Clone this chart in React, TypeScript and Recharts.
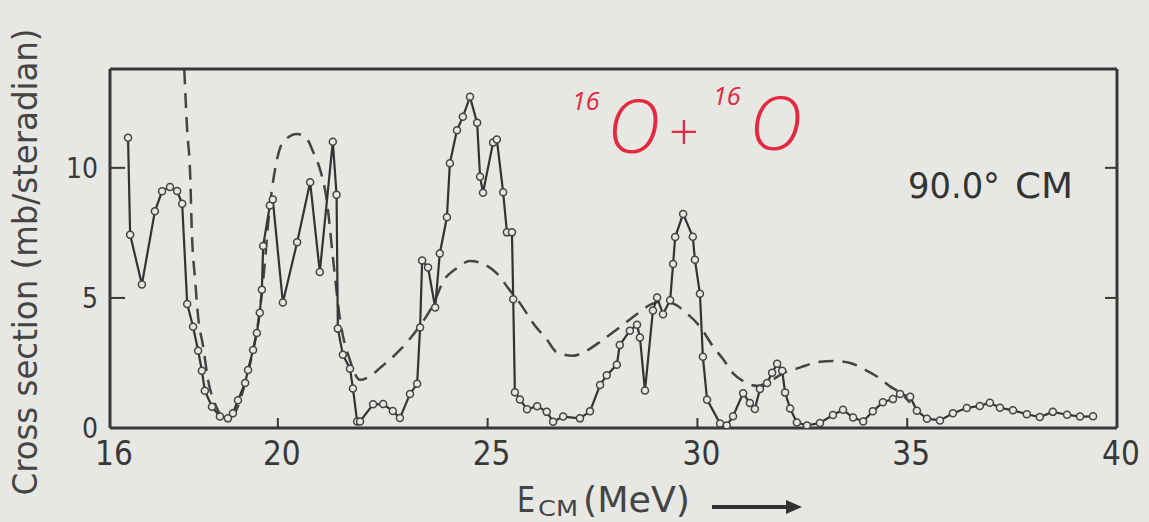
import React from 'react';
import { ComposedChart, Line, XAxis, YAxis } from 'recharts';

// measured excitation function, 90 deg CM (open circles)
const expEnergy = [
  16.43, 16.48, 16.76, 17.07, 17.24, 17.43, 17.6, 17.72, 17.84, 17.98,
  18.1, 18.19, 18.26, 18.43, 18.62, 18.81, 18.93, 19.05, 19.22, 19.29,
  19.41, 19.5, 19.57, 19.62, 19.65, 19.81, 19.88, 20.12, 20.46, 20.77,
  21.0, 21.31, 21.4, 21.43, 21.55, 21.72, 21.79, 21.89, 21.96, 22.27,
  22.51, 22.74, 22.91, 23.15, 23.32, 23.39, 23.44, 23.58, 23.75, 23.86,
  24.03, 24.1, 24.27, 24.41, 24.58, 24.75, 24.82, 24.89, 25.13, 25.22,
  25.37, 25.46, 25.58, 25.61, 25.65, 25.77, 25.94, 26.18, 26.41, 26.56,
  26.8, 27.2, 27.44, 27.68, 27.84, 28.08, 28.15, 28.39, 28.56, 28.63,
  28.75, 28.94, 29.04, 29.18, 29.35, 29.42, 29.47, 29.66, 29.89, 29.94,
  30.06, 30.13, 30.23, 30.54, 30.7, 30.85, 31.09, 31.25, 31.37, 31.49,
  31.66, 31.78, 31.9, 32.02, 32.09, 32.21, 32.37, 32.61, 32.92, 33.23,
  33.47, 33.71, 33.95, 34.18, 34.42, 34.66, 34.83, 35.07, 35.23, 35.47,
  35.78, 36.09, 36.42, 36.73, 36.97, 37.21, 37.52, 37.85, 38.16, 38.47,
  38.81, 39.12, 39.43,
];
const expSigma = [
  11.16, 7.43, 5.52, 8.33, 9.1, 9.26, 9.11, 8.62, 4.77, 3.89,
  2.97, 2.2, 1.43, 0.82, 0.44, 0.37, 0.57, 1.07, 1.73, 2.23,
  3.0, 3.65, 4.43, 5.31, 7.0, 8.55, 8.78, 4.82, 7.14, 9.45,
  6.0, 11.0, 8.97, 3.82, 2.82, 2.28, 1.52, 0.25, 0.25, 0.91,
  0.92, 0.65, 0.38, 1.31, 1.7, 3.86, 6.44, 6.17, 4.63, 6.71,
  8.1, 10.18, 11.45, 11.96, 12.73, 11.73, 9.66, 9.04, 10.97, 11.09,
  9.06, 7.52, 7.52, 4.95, 1.37, 1.1, 0.72, 0.84, 0.62, 0.24,
  0.44, 0.37, 0.64, 1.65, 2.03, 2.43, 3.19, 3.74, 3.97, 3.48,
  1.44, 4.52, 5.02, 4.37, 4.91, 6.3, 7.34, 8.23, 7.35, 6.47,
  5.16, 2.74, 1.09, 0.17, 0.1, 0.45, 1.34, 0.96, 0.73, 1.5,
  1.73, 2.12, 2.47, 2.2, 1.36, 0.75, 0.21, 0.1, 0.19, 0.5,
  0.7, 0.4, 0.25, 0.64, 0.99, 1.11, 1.31, 1.2, 0.66, 0.36,
  0.29, 0.57, 0.77, 0.85, 0.97, 0.78, 0.68, 0.53, 0.42, 0.62,
  0.51, 0.44, 0.45,
];

// calculation (dashed curve)
const theoryEnergy = [
  17.77, 17.84, 17.91, 17.95, 18.03, 18.1, 18.22, 18.34, 18.5, 18.69,
  18.91, 19.05, 19.22, 19.38, 19.53, 19.69, 19.77, 19.98, 20.12, 20.46,
  20.69, 20.84, 21.0, 21.17, 21.31, 21.48, 21.72, 21.96, 22.2, 22.43,
  22.91, 23.39, 23.7, 23.94, 24.27, 24.58, 24.89, 25.22, 25.53, 25.77,
  26.08, 26.41, 26.65, 27.03, 27.37, 27.75, 28.15, 28.56, 28.87, 29.11,
  29.42, 29.75, 30.06, 30.37, 30.61, 30.85, 31.09, 31.42, 31.66, 32.04,
  32.44, 32.85, 33.23, 33.64, 33.95, 34.28, 34.59, 34.83, 35.07,
];
const theorySigma = [
  13.8, 11.43, 9.78, 7.58, 5.66, 4.28, 3.13, 1.82, 0.94, 0.45,
  0.45, 0.84, 1.73, 2.77, 4.04, 6.35, 7.89, 10.32, 10.98, 11.3,
  11.12, 10.62, 9.97, 8.71, 6.6, 4.2, 2.6, 1.85, 2.0, 2.3,
  3.0, 3.94, 4.73, 5.63, 6.15, 6.42, 6.31, 5.94, 5.29, 4.8,
  4.04, 3.4, 2.91, 2.78, 2.98, 3.4, 3.87, 4.38, 4.73, 4.85,
  4.78, 4.4, 3.9, 3.14, 2.65, 2.1, 1.8, 1.62, 1.74, 2.1,
  2.32, 2.53, 2.58, 2.5, 2.28, 1.98, 1.6, 1.35, 0.97,
];

const energyTicks = [16, 20, 25, 30, 35, 40];
const innerEnergyTicks = [20, 25, 30, 35];
const sigmaTicks = [0, 5, 10];
const innerSigmaTicks = [5, 10];

const measured = expEnergy.map((e, i) => ({ e, s: expSigma[i] }));
const theory = theoryEnergy.map((e, i) => ({ e, s: theorySigma[i] }));

const INK = '#383838';
const PAPER = '#e7e7e3';
const RED = '#e4283f';
const NARROW = "'DejaVu Sans Condensed', 'Liberation Sans Narrow', 'DejaVu Sans', sans-serif";

// axis ticks point into the frame, labels sit outside
const BottomTick = ({ x, y, payload }: any) => (
  <g>
    {payload.value > 16 && payload.value < 40 && (
      <line x1={x} y1={y} x2={x} y2={y - 10} stroke={INK} strokeWidth={2} />
    )}
    <text x={x + 4} y={y + 37} textAnchor="middle" fontFamily={NARROW} fontSize={33} fill={INK}>
      {payload.value}
    </text>
  </g>
);

const TopTick = ({ x, y }: any) => (
  <line x1={x} y1={y} x2={x} y2={y + 10} stroke={INK} strokeWidth={2} />
);

const LeftTick = ({ x, y, payload }: any) => (
  <g>
    {payload.value > 0 && <line x1={x} y1={y} x2={x + 15} y2={y} stroke={INK} strokeWidth={2} />}
    <text x={x - 12} y={y + 10} textAnchor="end" fontFamily={NARROW} fontSize={28} fill={INK}>
      {payload.value}
    </text>
  </g>
);

const RightTick = ({ x, y }: any) => (
  <line x1={x} y1={y} x2={x - 12} y2={y} stroke={INK} strokeWidth={2} />
);

const frame = { stroke: INK, strokeWidth: 3 };

export default function App() {
  return (
    <div style={{ position: 'absolute', left: 0, top: 0, width: 1149, height: 522, background: PAPER, overflow: 'hidden' }}>
      <ComposedChart width={1149} height={522} margin={{ top: 0, right: 0, bottom: 0, left: 0 }}>
        <XAxis xAxisId="bottom" dataKey="e" type="number" domain={[16, 40]} ticks={energyTicks} interval={0}
          allowDataOverflow height={94} tickSize={0} tickMargin={0} tickLine={false} axisLine={frame} tick={BottomTick} />
        <XAxis xAxisId="top" orientation="top" type="number" domain={[16, 40]} ticks={innerEnergyTicks} interval={0}
          allowDataOverflow height={69} tickSize={0} tickMargin={0} tickLine={false} axisLine={frame} tick={TopTick} />
        <YAxis yAxisId="left" type="number" domain={[0, 13.8]} ticks={sigmaTicks} interval={0}
          allowDataOverflow width={110} tickSize={0} tickMargin={0} tickLine={false} axisLine={frame} tick={LeftTick} />
        <YAxis yAxisId="right" orientation="right" type="number" domain={[0, 13.8]} ticks={innerSigmaTicks} interval={0}
          allowDataOverflow width={32} tickSize={0} tickMargin={0} tickLine={false} axisLine={frame} tick={RightTick} />
        <Line xAxisId="bottom" yAxisId="left" data={theory} dataKey="s" type="monotone" stroke="#444"
          strokeWidth={2.5} strokeDasharray="15 9" dot={false} isAnimationActive={false} />
        <Line xAxisId="bottom" yAxisId="left" data={measured} dataKey="s" type="linear" stroke="#333"
          strokeWidth={2.2} dot={{ r: 3.5, fill: PAPER, stroke: '#444', strokeWidth: 1.5 }} isAnimationActive={false} />
      </ComposedChart>

      <svg width={1149} height={522} style={{ position: 'absolute', left: 0, top: 0, pointerEvents: 'none' }}>
        <text transform="translate(37,262) rotate(-90)" textAnchor="middle" fontFamily={NARROW} fontSize={34}
          fill="#444" textLength={467} lengthAdjust="spacingAndGlyphs">
          Cross section (mb/steradian)
        </text>

        <text x={517} y={512} fontFamily={NARROW} fontSize={36} fill="#444" textLength={18} lengthAdjust="spacingAndGlyphs">E</text>
        <text x={538} y={516} fontFamily={NARROW} fontSize={22} fill="#444" textLength={40} lengthAdjust="spacingAndGlyphs">CM</text>
        <text x={583} y={512} fontFamily={NARROW} fontSize={36} fill="#444" textLength={107} lengthAdjust="spacingAndGlyphs">(MeV)</text>
        <line x1={712} y1={507} x2={788} y2={507} stroke="#333" strokeWidth={4} />
        <polygon points="786,500 802,507 786,514" fill="#333" />

        <text x={908} y={198} fontFamily={NARROW} fontSize={36} fill="#333" textLength={92} lengthAdjust="spacingAndGlyphs">90.0°</text>
        <text x={1015} y={198} fontFamily={NARROW} fontSize={36} fill="#333" textLength={58} lengthAdjust="spacingAndGlyphs">CM</text>

        <g fill={RED} fontFamily="'Open Sans', 'Noto Sans', sans-serif" fontStyle="italic">
          <text x={572} y={110} fontSize={25} fontWeight={400}>16</text>
          <text x={607} y={153} fontSize={74} fontWeight={300}>O</text>
          <text x={668} y={150} fontSize={52} fontWeight={300}>+</text>
          <text x={713} y={105} fontSize={25} fontWeight={400}>16</text>
          <text x={749} y={150} fontSize={74} fontWeight={300}>O</text>
        </g>
      </svg>
    </div>
  );
}
